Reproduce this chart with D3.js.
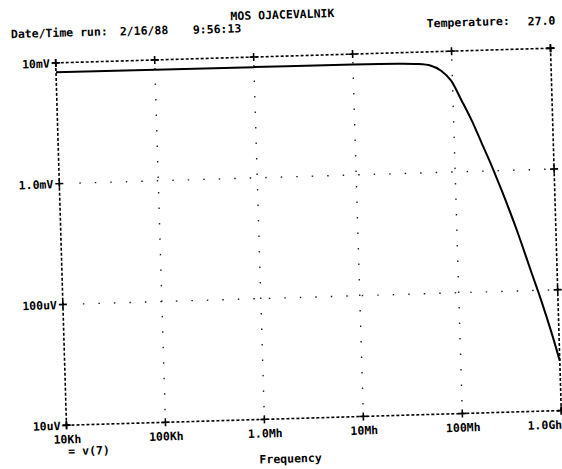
<html>
<head>
<script src="https://d3js.org/d3.v7.min.js"></script>
<style>
    body { margin: 0; background: #fff; }
    text { font-family: "DejaVu Sans Mono", monospace; font-weight: bold; font-size: 11.5px; fill: #000; }
</style>
</head>
<body>
<svg width="562" height="469"></svg>
<script>

// frequency response of v(7)
var freqHz = [1e4, 1e5, 1e6, 1e7, 2.86e7, 4.47e7, 6.14e7, 7.74e7, 9.7e7, 1.22e8, 1.53e8,
              1.905e8, 2.39e8, 2.92e8, 4.05e8, 5.43e8, 6.79e8, 8.47e8, 1e9];
var volts = [8.35e-3, 8.3e-3, 8.25e-3, 8.2e-3, 8.11e-3, 7.98e-3, 7.67e-3, 6.93e-3, 5.70e-3, 3.89e-3, 2.62e-3,
             1.68e-3, 1.06e-3, 6.81e-4, 3.15e-4, 1.46e-4, 8.18e-5, 4.35e-5, 2.58e-5];

var xTicks = [1e4, 1e5, 1e6, 1e7, 1e8, 1e9];
var xTickLabels = ["10Kh", "100Kh", "1.0Mh", "10Mh", "100Mh", "1.0Gh"];
var yTicks = [1e-5, 1e-4, 1e-3, 1e-2];
var yTickLabels = ["10uV", "100uV", "1.0mV", "10mV"];

var pLeft = 61, pRight = 556, pTop = 55.5, pBottom = 418;

var x = d3.scaleLog().domain([1e4, 1e9]).range([pLeft, pRight]);
var y = d3.scaleLog().domain([1e-5, 1e-2]).range([pBottom, pTop]);

// the scanned page is slightly tilted
var g = d3.select("svg").append("g")
    .attr("transform", "rotate(-1.7,308,237)");

// header
g.append("text").attr("x", 289).attr("y", 18).style("text-anchor", "middle").text("MOS OJACEVALNIK");
g.append("text").attr("x", 17).attr("y", 29.5).text("Date/Time run:");
g.append("text").attr("x", 126).attr("y", 30).text("2/16/88");
g.append("text").attr("x", 199).attr("y", 30.5).text("9:56:13");
g.append("text").attr("x", 433).attr("y", 31).text("Temperature:");
g.append("text").attr("x", 534).attr("y", 32).text("27.0");

// dotted grid
g.selectAll(".vgrid")
    .data(xTicks.slice(1, -1))
    .enter().append("line")
    .attr("x1", function(d) { return x(d); })
    .attr("x2", function(d) { return x(d); })
    .attr("y1", pTop + 8).attr("y2", pBottom - 8)
    .attr("stroke", "#222").attr("stroke-width", 1.4)
    .attr("stroke-dasharray", "1.5,14");

g.selectAll(".hgrid")
    .data(yTicks.slice(1, -1))
    .enter().append("line")
    .attr("x1", pLeft + 20).attr("x2", pRight - 8)
    .attr("y1", function(d) { return y(d); })
    .attr("y2", function(d) { return y(d); })
    .attr("stroke", "#222").attr("stroke-width", 1.4)
    .attr("stroke-dasharray", "1.5,14");

// dashed frame
var frame = [
    [pLeft, pTop, pRight, pTop],
    [pLeft, pBottom, pRight, pBottom],
    [pLeft, pTop, pLeft, pBottom],
    [pRight, pTop, pRight, pBottom]
];
g.selectAll(".frame")
    .data(frame)
    .enter().append("line")
    .attr("x1", function(d) { return d[0]; })
    .attr("y1", function(d) { return d[1]; })
    .attr("x2", function(d) { return d[2]; })
    .attr("y2", function(d) { return d[3]; })
    .attr("stroke", "#000").attr("stroke-width", 1.6)
    .attr("stroke-dasharray", "3,2");

// "+" tick marks on all four sides
var cross = function(cx, cy) {
    return "M" + (cx - 4) + "," + cy + "H" + (cx + 4) + "M" + cx + "," + (cy - 4) + "V" + (cy + 4);
};
var crossPaths = [];
xTicks.forEach(function(d) { crossPaths.push(cross(x(d), pTop)); crossPaths.push(cross(x(d), pBottom)); });
yTicks.forEach(function(d) { crossPaths.push(cross(pLeft, y(d))); crossPaths.push(cross(pRight, y(d))); });
g.selectAll(".cross")
    .data(crossPaths)
    .enter().append("path")
    .attr("d", function(d) { return d; })
    .attr("stroke", "#000").attr("stroke-width", 1.6).attr("fill", "none");

// axis labels
var xAxis = g.append("g")
    .attr("transform", "translate(0," + pBottom + ")")
    .call(d3.axisBottom(x).tickValues(xTicks)
        .tickFormat(function(d, i) { return xTickLabels[i]; })
        .tickSize(0).tickPadding(10));
xAxis.select(".domain").remove();
xAxis.selectAll("text").attr("font-size", null).attr("font-family", null);
xAxis.selectAll(".tick:last-of-type text").attr("text-anchor", "end");

var yAxis = g.append("g")
    .attr("transform", "translate(" + (pLeft - 6) + ",0)")
    .call(d3.axisLeft(y).tickValues(yTicks)
        .tickFormat(function(d, i) { return yTickLabels[i]; })
        .tickSize(0).tickPadding(0));
yAxis.select(".domain").remove();
yAxis.selectAll("text").attr("font-size", null).attr("font-family", null).attr("dy", "0.35em");

g.append("text").attr("x", 62).attr("y", 448).text("= v(7)");
g.append("text").attr("x", 284).attr("y", 462).style("text-anchor", "middle").text("Frequency");

// trace
var line = d3.line()
    .x(function(d, i) { return x(freqHz[i]); })
    .y(function(d) { return y(d); })
    .curve(d3.curveMonotoneX);

g.append("path")
    .attr("d", line(volts))
    .attr("fill", "none")
    .attr("stroke", "#000")
    .attr("stroke-width", 2);

</script>
</body>
</html>
